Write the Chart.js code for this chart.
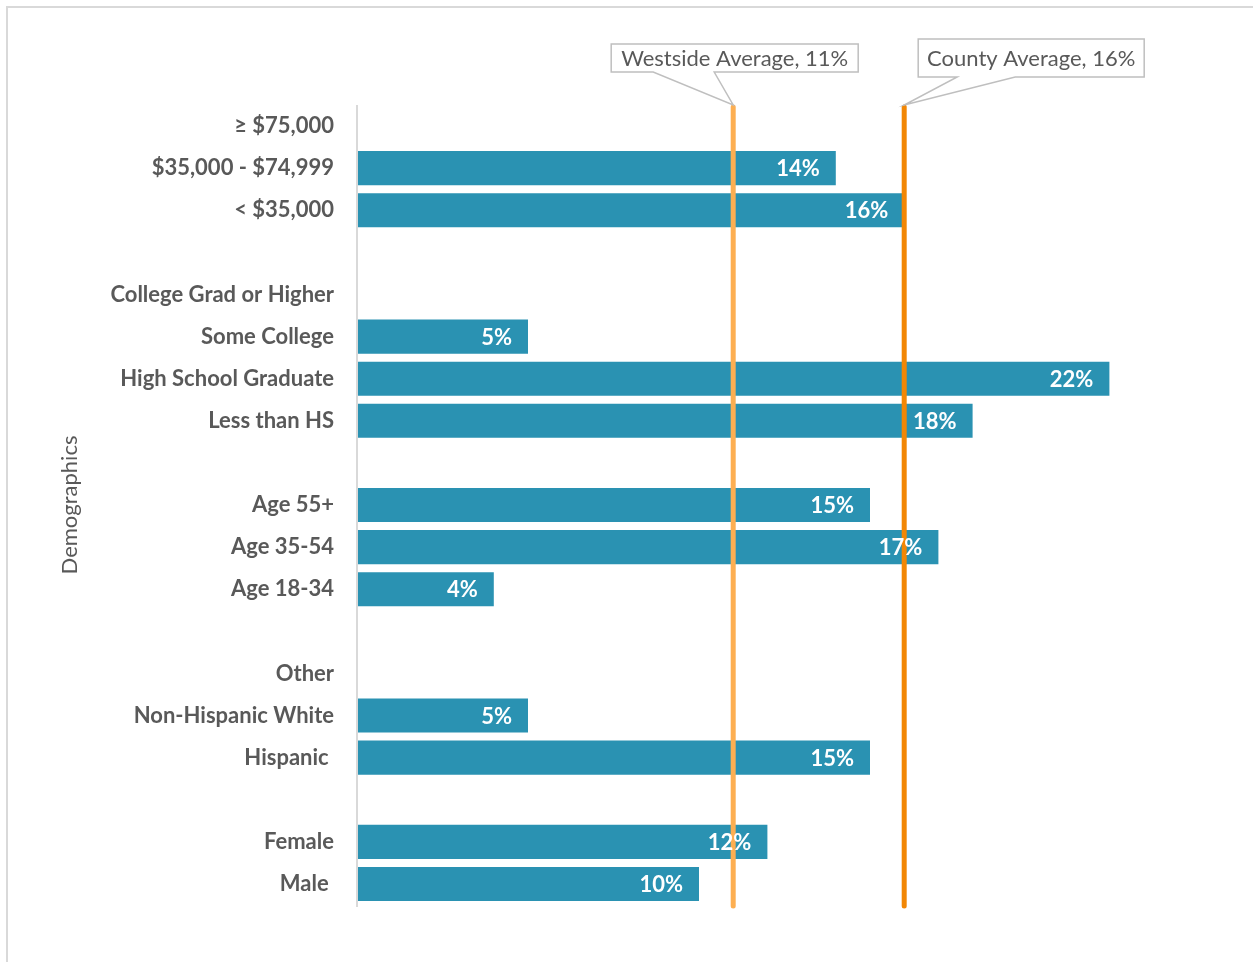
<!DOCTYPE html>
<html>
<head>
<meta charset="utf-8">
<title>Demographics</title>
<script src="https://cdn.jsdelivr.net/npm/chart.js@4/dist/chart.umd.min.js"></script>
<style>
  html, body { margin: 0; padding: 0; background: #fff; }
  #wrap { width: 1253px; height: 962px; }
</style>
</head>
<body>
<div id="wrap"><canvas id="chart" width="1253" height="962"></canvas></div>
<script>
// Categories top to bottom; empty strings are spacer rows between groups
const categories = [
    '\u2265 $75,000', '$35,000 - $74,999', '< $35,000', '',
    'College Grad or Higher', 'Some College', 'High School Graduate', 'Less than HS', '',
    'Age 55+', 'Age 35-54', 'Age 18-34', '',
    'Other', 'Non-Hispanic White', 'Hispanic ', '',
    'Female', 'Male '
];
const percents = [
    null, 14, 16, null,
    null, 5, 22, 18, null,
    15, 17, 4, null,
    null, 5, 15, null,
    12, 10
];

// Reference lines
const refNames = ['Westside Average', 'County Average'];
const refValues = [11, 16];
const refColors = ['#FDAF52', '#F28705'];

const axisMax = 25;
const textGrey = '#595959';
const FONT = "Lato, 'Open Sans', sans-serif";

// Callout boxes: offset of the box from the top of each line
const callouts = [
    { dx: -122, dy: -61, w: 247, h: 28, base: [-80, -19] },
    { dx: 14, dy: -66, w: 226, h: 38, base: [53, 111] }
];

const extras = {
    id: 'extras',
    beforeDraw(chart) {
        const ctx = chart.ctx;
        ctx.save();
        // frame
        ctx.strokeStyle = '#d9d9d9';
        ctx.lineWidth = 2;
        ctx.beginPath();
        ctx.moveTo(7, 970);
        ctx.lineTo(7, 7);
        ctx.lineTo(1260, 7);
        ctx.stroke();
        // axis title
        ctx.translate(70, 505);
        ctx.rotate(-Math.PI / 2);
        ctx.fillStyle = textGrey;
        ctx.font = `22px ${FONT}`;
        ctx.textAlign = 'center';
        ctx.textBaseline = 'middle';
        ctx.fillText('Demographics', 0, 0);
        ctx.restore();
    },
    afterDatasetsDraw(chart) {
        const ctx = chart.ctx;
        const area = chart.chartArea;
        const x = chart.scales.x;

        // value axis line
        ctx.save();
        ctx.strokeStyle = '#d9d9d9';
        ctx.lineWidth = 2;
        ctx.beginPath();
        ctx.moveTo(x.getPixelForValue(0), area.top);
        ctx.lineTo(x.getPixelForValue(0), area.bottom + 2);
        ctx.stroke();

        // average lines
        refValues.forEach((v, i) => {
            const px = x.getPixelForValue(v);
            ctx.strokeStyle = refColors[i];
            ctx.lineWidth = 5;
            ctx.lineCap = 'round';
            ctx.beginPath();
            ctx.moveTo(px, area.top + 2);
            ctx.lineTo(px, area.bottom + 1);
            ctx.stroke();
        });

        // bar labels
        const meta = chart.getDatasetMeta(0);
        ctx.fillStyle = '#ffffff';
        ctx.font = `bold 22px ${FONT}`;
        ctx.textAlign = 'right';
        ctx.textBaseline = 'middle';
        meta.data.forEach((bar, i) => {
            const v = percents[i];
            if (v === null) return;
            ctx.fillText(v + '%', bar.x - 16, bar.y + 1);
        });

        // callouts
        refValues.forEach((v, i) => {
            const c = callouts[i];
            const tipX = x.getPixelForValue(v);
            const tipY = area.top;
            const left = tipX + c.dx;
            const top = tipY + c.dy;
            const right = left + c.w;
            const bottom = top + c.h;
            ctx.beginPath();
            ctx.moveTo(left, top);
            ctx.lineTo(right, top);
            ctx.lineTo(right, bottom);
            ctx.lineTo(tipX + c.base[1], bottom);
            ctx.lineTo(tipX, tipY);
            ctx.lineTo(tipX + c.base[0], bottom);
            ctx.lineTo(left, bottom);
            ctx.closePath();
            ctx.fillStyle = '#ffffff';
            ctx.fill();
            ctx.strokeStyle = '#bfbfbf';
            ctx.lineWidth = 1.5;
            ctx.lineCap = 'butt';
            ctx.stroke();
            ctx.fillStyle = textGrey;
            ctx.font = `22px ${FONT}`;
            ctx.textAlign = 'center';
            ctx.textBaseline = 'middle';
            ctx.fillText(`${refNames[i]}, ${v}%`, (left + right) / 2, (top + bottom) / 2 + 1);
        });
        ctx.restore();
    }
};

new Chart(document.getElementById('chart'), {
    type: 'bar',
    data: {
        labels: categories,
        datasets: [{
            data: percents,
            backgroundColor: '#2A92B2',
            borderWidth: 0,
            categoryPercentage: 1,
            barPercentage: 0.81
        }]
    },
    options: {
        indexAxis: 'y',
        responsive: false,
        animation: false,
        layout: {
            padding: { left: 0, top: 105, right: 41, bottom: 57 }
        },
        plugins: {
            legend: { display: false },
            tooltip: { enabled: false }
        },
        scales: {
            x: {
                display: false,
                min: 0,
                max: axisMax
            },
            y: {
                grid: { display: false },
                border: { display: false },
                afterFit: scale => { scale.width = 357; },
                ticks: {
                    padding: 15,
                    autoSkip: false,
                    color: textGrey,
                    font: { family: FONT, size: 22, weight: 'bold' }
                }
            }
        }
    },
    plugins: [extras]
});
</script>
</body>
</html>
